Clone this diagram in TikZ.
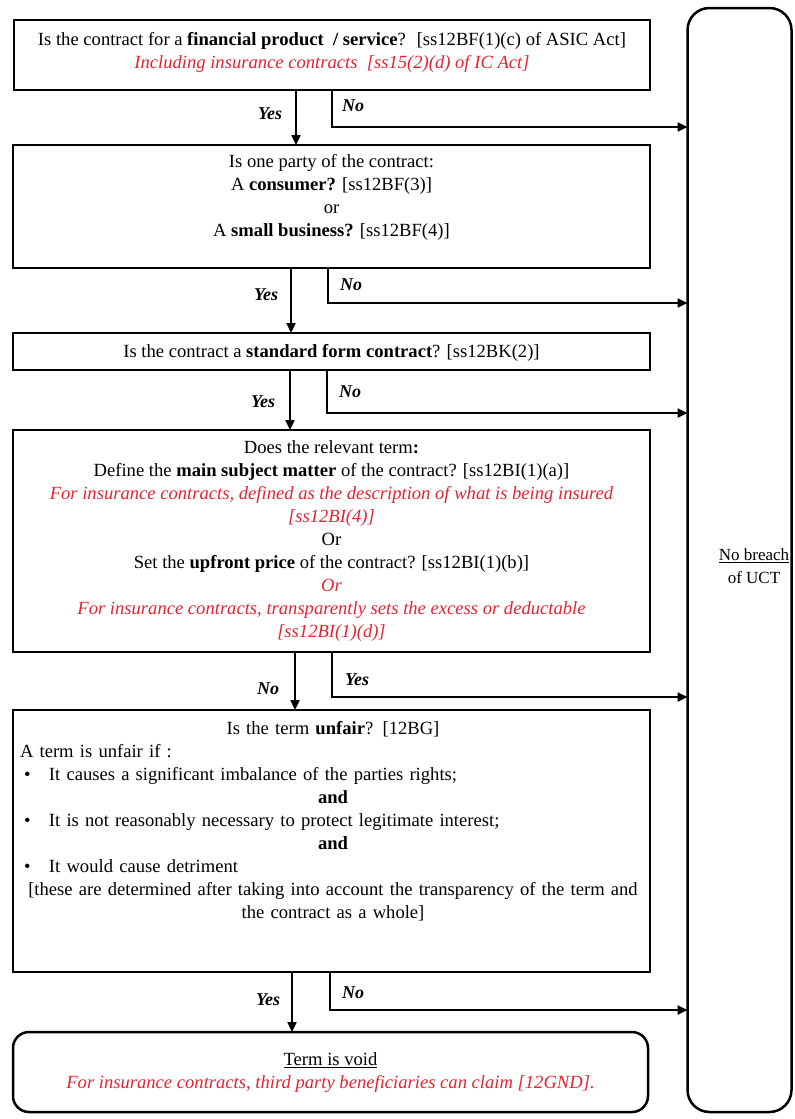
\documentclass[tikz,border=0pt]{standalone}
\usepackage{fontspec}
\setmainfont{Liberation Serif}
\usetikzlibrary{arrows.meta}
\definecolor{lawred}{RGB}{228,35,50}
\newcommand\redit[1]{\textcolor{lawred}{\itshape #1}}
\newcommand\bul{\hspace*{4pt}\makebox[25pt][l]{\textbullet}}
\begin{document}
\begin{tikzpicture}[x=1pt,y=-1pt,
  box/.style={draw, line width=2.5pt, inner sep=0pt, outer sep=0pt},
  txt/.style={align=center, font=\fontsize{18.6}{23}\selectfont, inner sep=0pt},
  lab/.style={font=\fontsize{18}{20}\selectfont\bfseries\itshape, inner sep=0pt},
  arr/.style={line width=2.3pt, -{Triangle[length=10pt,width=9pt]}},
]
\useasboundingbox (0,0) rectangle (795,1119);

% boxes
\node[box, minimum width=636pt, minimum height=70pt] (b1) at (332,55) {};
\node[box, minimum width=637pt, minimum height=123pt] (b2) at (331.5,206.5) {};
\node[box, minimum width=637pt, minimum height=37pt] (b3) at (331.5,351.5) {};
\node[box, minimum width=637pt, minimum height=222pt] (b4) at (331.5,541) {};
\node[box, minimum width=637pt, minimum height=262pt] (b5) at (331.5,841) {};
\node[box, rounded corners=16pt, minimum width=635pt, minimum height=80pt] (b6) at (330.5,1072) {};
\node[box, rounded corners=22pt, minimum width=104pt, minimum height=1104pt] (ub) at (739.5,560) {};

% texts
\node[txt] (t1) at (332,52) {Is the contract for a \textbf{financial product\ \ / service}? \ [ss12BF(1)(c) of ASIC Act]\\
  \redit{Including insurance contracts \ [ss15(2)(d) of IC Act]}};
\node[txt] (t2) at (331.5,197.5) {Is one party of the contract:\\
  A \textbf{consumer?} [ss12BF(3)]\\ or\\ A \textbf{small business?} [ss12BF(4)]};
\node[txt] (t3) at (331.5,352.5) {Is the contract a \textbf{standard form contract}? [ss12BK(2)]};
\node[txt] (t4) at (331.5,541.5) {Does the relevant term\textbf{:}\\
  Define the \textbf{main subject matter} of the contract? [ss12BI(1)(a)]\\
  \redit{For insurance contracts, defined as the description of what is being insured}\\
  \redit{[ss12BI(4)]}\\
  Or\\
  Set the \textbf{upfront price} of the contract? [ss12BI(1)(b)]\\
  \redit{Or}\\
  \redit{For insurance contracts, transparently sets the excess or deductable}\\
  \redit{[ss12BI(1)(d)]}};
\node[txt, text width=626pt, align=left] (t5) at (333,821.5) {\setlength\parindent{0pt}%
  {\centering Is the term \textbf{unfair}? [12BG]\par}
  A term is unfair if :\par
  \bul It causes a significant imbalance of the parties rights;\par
  {\centering\textbf{and}\par}
  \bul It is not reasonably necessary to protect legitimate interest;\par
  {\centering\textbf{and}\par}
  \bul It would cause detriment\par
  {\centering \makebox[0pt]{[these are determined after taking into account the transparency of the term and}\\ the contract as a whole]\par}};
\node[txt] (t6) at (330.5,1073) {\underline{Term is void}\\
  \redit{For insurance contracts, third party beneficiaries can claim [12GND].}};
\node[txt, font=\fontsize{17}{22.5}\selectfont] (t7) at (754,566) {\underline{No breach}\\ of UCT};

% yes / no arrows
\coordinate (y1) at (296,0);
\coordinate (y2) at (291,0);
\coordinate (y3) at (290,0);
\coordinate (y4) at (295,0);
\coordinate (y5) at (292,0);
\coordinate (n1) at (332,127);
\coordinate (n2) at (328,303);
\coordinate (n3) at (327,413);
\coordinate (n4) at (332,697);
\coordinate (n5) at (330,1010);

\draw[arr] (b1.south -| y1) -- (b2.north -| y1);
\draw[arr] (b2.south -| y2) -- (b3.north -| y2);
\draw[arr] (b3.south -| y3) -- (b4.north -| y3);
\draw[arr] (b4.south -| y4) -- (b5.north -| y4);
\draw[arr] (b5.south -| y5) -- (b6.north -| y5);

\draw[arr] (b1.south -| n1) -- (n1) -- (n1 -| ub.west);
\draw[arr] (b2.south -| n2) -- (n2) -- (n2 -| ub.west);
\draw[arr] (b3.south -| n3) -- (n3) -- (n3 -| ub.west);
\draw[arr] (b4.south -| n4) -- (n4) -- (n4 -| ub.west);
\draw[arr] (b5.south -| n5) -- (n5) -- (n5 -| ub.west);

% labels
\node[lab] (ly1) at (270,114) {Yes};
\node[lab] (ln1) at (353,106) {No};
\node[lab] (ly2) at (266,295) {Yes};
\node[lab] (ln2) at (351,285) {No};
\node[lab] (ly3) at (263,402) {Yes};
\node[lab] (ln3) at (350,392) {No};
\node[lab] (ln4) at (268,689) {No};
\node[lab] (ly4) at (357,680) {Yes};
\node[lab] (ly5) at (268,1000) {Yes};
\node[lab] (ln5) at (353,993) {No};
\end{tikzpicture}
\end{document}
